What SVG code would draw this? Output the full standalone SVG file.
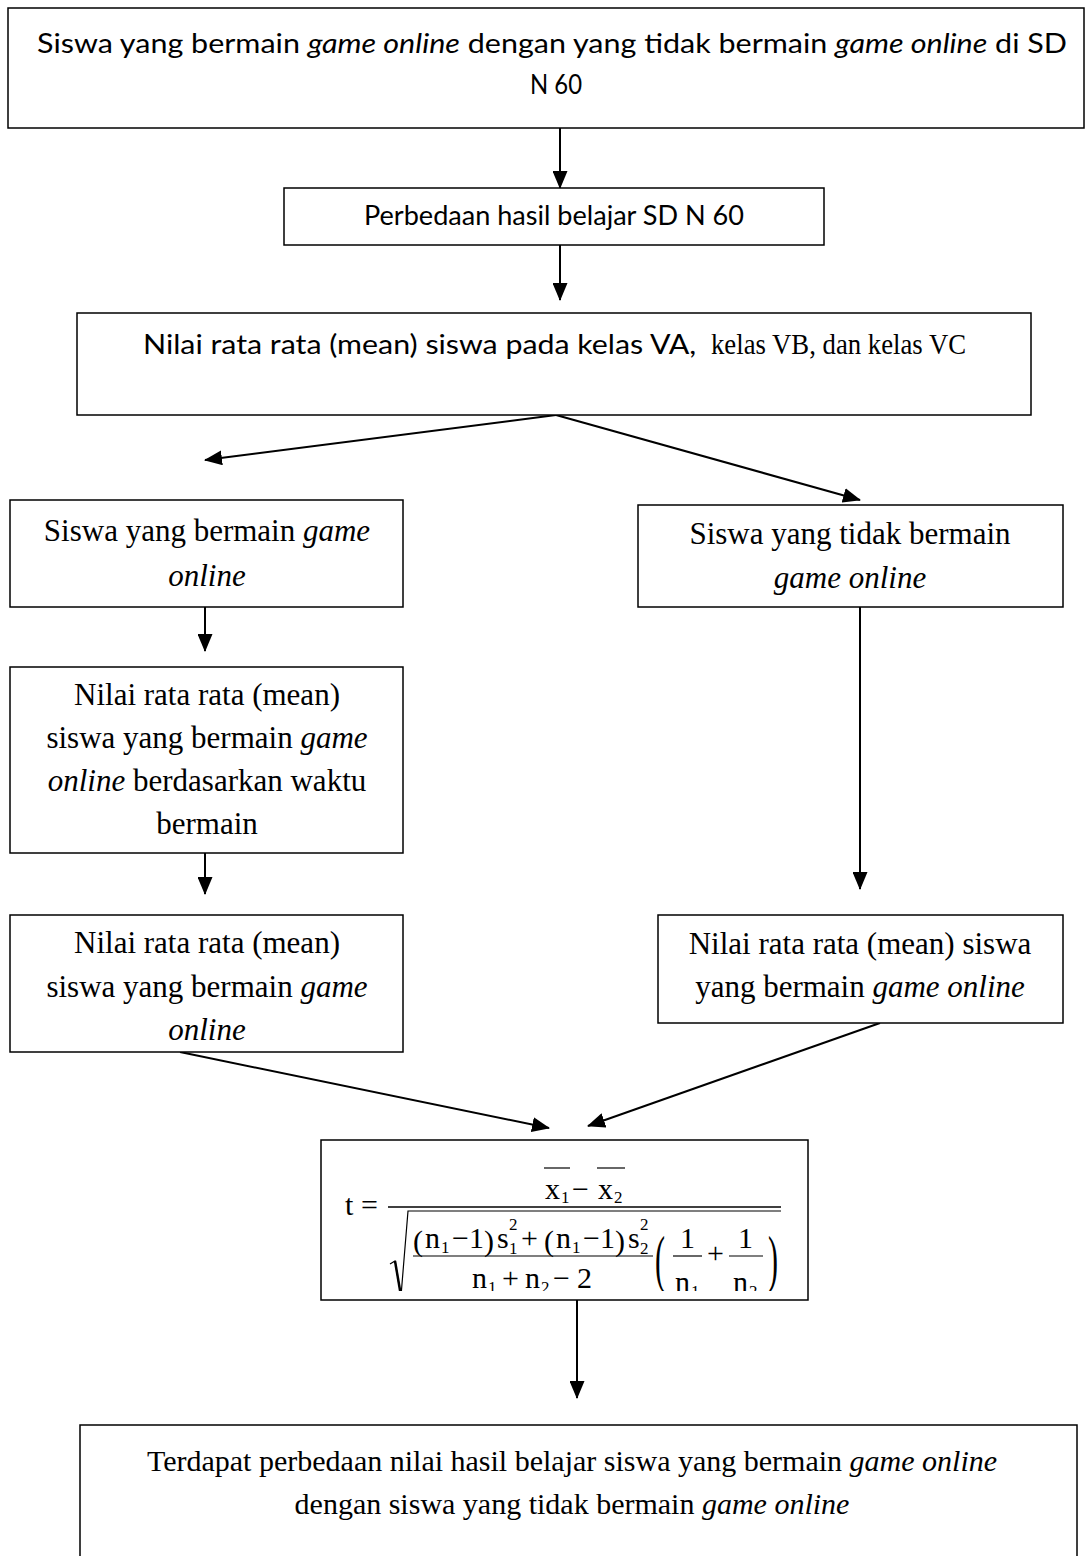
<svg xmlns="http://www.w3.org/2000/svg" width="1090" height="1556" viewBox="0 0 1090 1556">
<style>
.box{fill:#fff;stroke:#000;stroke-width:1.5}
.sans{font-family:Lato,"Liberation Sans",sans-serif;fill:#000}
.serif{font-family:"Liberation Serif","Times New Roman",serif;fill:#000}
.edge{stroke:#000;stroke-width:2;fill:none;marker-end:url(#ah)}
.c{text-anchor:middle}
.it{font-style:italic}
.m{font-family:"Liberation Serif","Times New Roman",serif;fill:#000;font-size:30px}
.sub{font-size:17px}
</style>
<defs>
<marker id="ah" markerWidth="18" markerHeight="15" refX="17" refY="7.5" orient="auto" markerUnits="userSpaceOnUse">
<path d="M0,0 L18,7.5 L0,15 Z" fill="#000"/>
</marker>
<clipPath id="fclip"><rect x="322" y="1141" width="485" height="150"/></clipPath>
</defs>
<rect width="1090" height="1556" fill="#fff"/>

<g id="connectors">
<line class="edge" x1="560" y1="128" x2="560" y2="188"/>
<line class="edge" x1="560" y1="245" x2="560" y2="300"/>
<line class="edge" x1="556" y1="415" x2="205" y2="460"/>
<line class="edge" x1="556" y1="415" x2="860" y2="500"/>
<line class="edge" x1="205" y1="607" x2="205" y2="651"/>
<line class="edge" x1="205" y1="853" x2="205" y2="894"/>
<line class="edge" x1="860" y1="607" x2="860" y2="889"/>
<line class="edge" x1="180" y1="1052" x2="549" y2="1128"/>
<line class="edge" x1="880" y1="1023" x2="588" y2="1126"/>
<line class="edge" x1="577" y1="1300" x2="577" y2="1398"/>
</g>

<g id="n1">
<rect class="box" x="8" y="8" width="1076" height="120"/>
<text class="sans c" x="552" y="53" font-size="27" textLength="1030" lengthAdjust="spacingAndGlyphs">Siswa yang bermain <tspan class="it">game online</tspan> dengan yang tidak bermain <tspan class="it">game online</tspan> di SD</text>
<text class="sans c" x="556" y="94" font-size="27" textLength="52" lengthAdjust="spacingAndGlyphs">N 60</text>
</g>

<g id="n2">
<rect class="box" x="284" y="188" width="540" height="57"/>
<text class="sans c" x="554" y="225" font-size="27" textLength="380" lengthAdjust="spacingAndGlyphs">Perbedaan hasil belajar SD N 60</text>
</g>

<g id="n3">
<rect class="box" x="77" y="313" width="954" height="102"/>
<text x="143" y="354"><tspan class="sans" font-size="26" textLength="561" lengthAdjust="spacingAndGlyphs">Nilai rata rata (mean) siswa pada kelas VA, </tspan><tspan class="serif" font-size="29" x="711" textLength="255" lengthAdjust="spacingAndGlyphs">kelas VB, dan kelas VC</tspan></text>
</g>

<g id="n4">
<rect class="box" x="10" y="500" width="393" height="107"/>
<text class="serif c" x="207" y="541" font-size="31">Siswa yang bermain <tspan class="it">game</tspan></text>
<text class="serif c it" x="207" y="586" font-size="31">online</text>
</g>

<g id="n5">
<rect class="box" x="638" y="505" width="425" height="102"/>
<text class="serif c" x="850" y="544" font-size="31">Siswa yang tidak bermain</text>
<text class="serif c it" x="850" y="588" font-size="31">game online</text>
</g>

<g id="n6">
<rect class="box" x="10" y="667" width="393" height="186"/>
<text class="serif c" x="207" y="705" font-size="31">Nilai rata rata (mean)</text>
<text class="serif c" x="207" y="748" font-size="31">siswa yang bermain <tspan class="it">game</tspan></text>
<text class="serif c" x="207" y="791" font-size="31"><tspan class="it">online</tspan> berdasarkan waktu</text>
<text class="serif c" x="207" y="834" font-size="31">bermain</text>
</g>

<g id="n7">
<rect class="box" x="10" y="915" width="393" height="137"/>
<text class="serif c" x="207" y="953" font-size="31">Nilai rata rata (mean)</text>
<text class="serif c" x="207" y="997" font-size="31">siswa yang bermain <tspan class="it">game</tspan></text>
<text class="serif c it" x="207" y="1040" font-size="31">online</text>
</g>

<g id="n8">
<rect class="box" x="658" y="915" width="405" height="108"/>
<text class="serif c" x="860" y="954" font-size="31">Nilai rata rata (mean) siswa</text>
<text class="serif c" x="860" y="997" font-size="31">yang bermain <tspan class="it">game online</tspan></text>
</g>

<g id="n9">
<rect class="box" x="321" y="1140" width="487" height="160"/>
<g clip-path="url(#fclip)">
<text class="m" x="345" y="1215">t</text>
<text class="m" x="361" y="1215">=</text>
<line x1="388" y1="1207" x2="781" y2="1207" stroke="#000" stroke-width="1.3"/>
<text class="m" x="545" y="1199">x</text><text class="m sub" x="561" y="1203">1</text>
<text class="m" x="572" y="1199">−</text>
<text class="m" x="598" y="1199">x</text><text class="m sub" x="614" y="1203">2</text>
<line x1="544" y1="1168" x2="570" y2="1168" stroke="#000" stroke-width="1.2"/>
<line x1="597" y1="1168" x2="625" y2="1168" stroke="#000" stroke-width="1.2"/>
<path d="M390,1264 L395,1261 L401,1296 L408,1211 L781,1211" fill="none" stroke="#000" stroke-width="1.2"/>
<path d="M395,1261 L401,1296" stroke="#000" stroke-width="2.5"/>
<text class="m" x="413" y="1251" font-size="38">(</text>
<text class="m" x="425" y="1248">n</text><text class="m sub" x="441" y="1253">1</text>
<text class="m" x="452" y="1248">−1</text>
<text class="m" x="484" y="1251" font-size="38">)</text>
<text class="m" x="497" y="1248">s</text><text class="m sub" x="509" y="1230">2</text><text class="m sub" x="509" y="1254">1</text>
<text class="m" x="521" y="1248">+</text>
<text class="m" x="544" y="1251" font-size="38">(</text>
<text class="m" x="556" y="1248">n</text><text class="m sub" x="572" y="1253">1</text>
<text class="m" x="583" y="1248">−1</text>
<text class="m" x="615" y="1251" font-size="38">)</text>
<text class="m" x="628" y="1248">s</text><text class="m sub" x="640" y="1230">2</text><text class="m sub" x="640" y="1254">2</text>
<line x1="413" y1="1256" x2="653" y2="1256" stroke="#000" stroke-width="1.2"/>
<text class="m" x="472" y="1288">n</text><text class="m sub" x="488" y="1293">1</text>
<text class="m" x="502" y="1288">+</text>
<text class="m" x="525" y="1288">n</text><text class="m sub" x="541" y="1293">2</text>
<text class="m" x="553" y="1288">−</text>
<text class="m" x="577" y="1288">2</text>
<text class="m" transform="translate(655,1280) scale(1,2.1)" font-size="34">(</text>
<text class="m" transform="translate(768,1280) scale(1,2.1)" font-size="34">)</text>
<text class="m" x="680" y="1248">1</text>
<line x1="673" y1="1256" x2="702" y2="1256" stroke="#000" stroke-width="1.2"/>
<text class="m" x="675" y="1292">n</text><text class="m sub" x="691" y="1297">1</text>
<text class="m" x="707" y="1263">+</text>
<text class="m" x="738" y="1248">1</text>
<line x1="729" y1="1256" x2="763" y2="1256" stroke="#000" stroke-width="1.2"/>
<text class="m" x="733" y="1292">n</text><text class="m sub" x="749" y="1297">2</text>
</g>
</g>

<g id="n10">
<rect class="box" x="80" y="1425" width="997" height="140"/>
<text class="serif c" x="572" y="1471" font-size="30">Terdapat perbedaan nilai hasil belajar siswa yang bermain <tspan class="it">game online</tspan></text>
<text class="serif c" x="572" y="1514" font-size="30">dengan siswa yang tidak bermain <tspan class="it">game online</tspan></text>
</g>
</svg>
